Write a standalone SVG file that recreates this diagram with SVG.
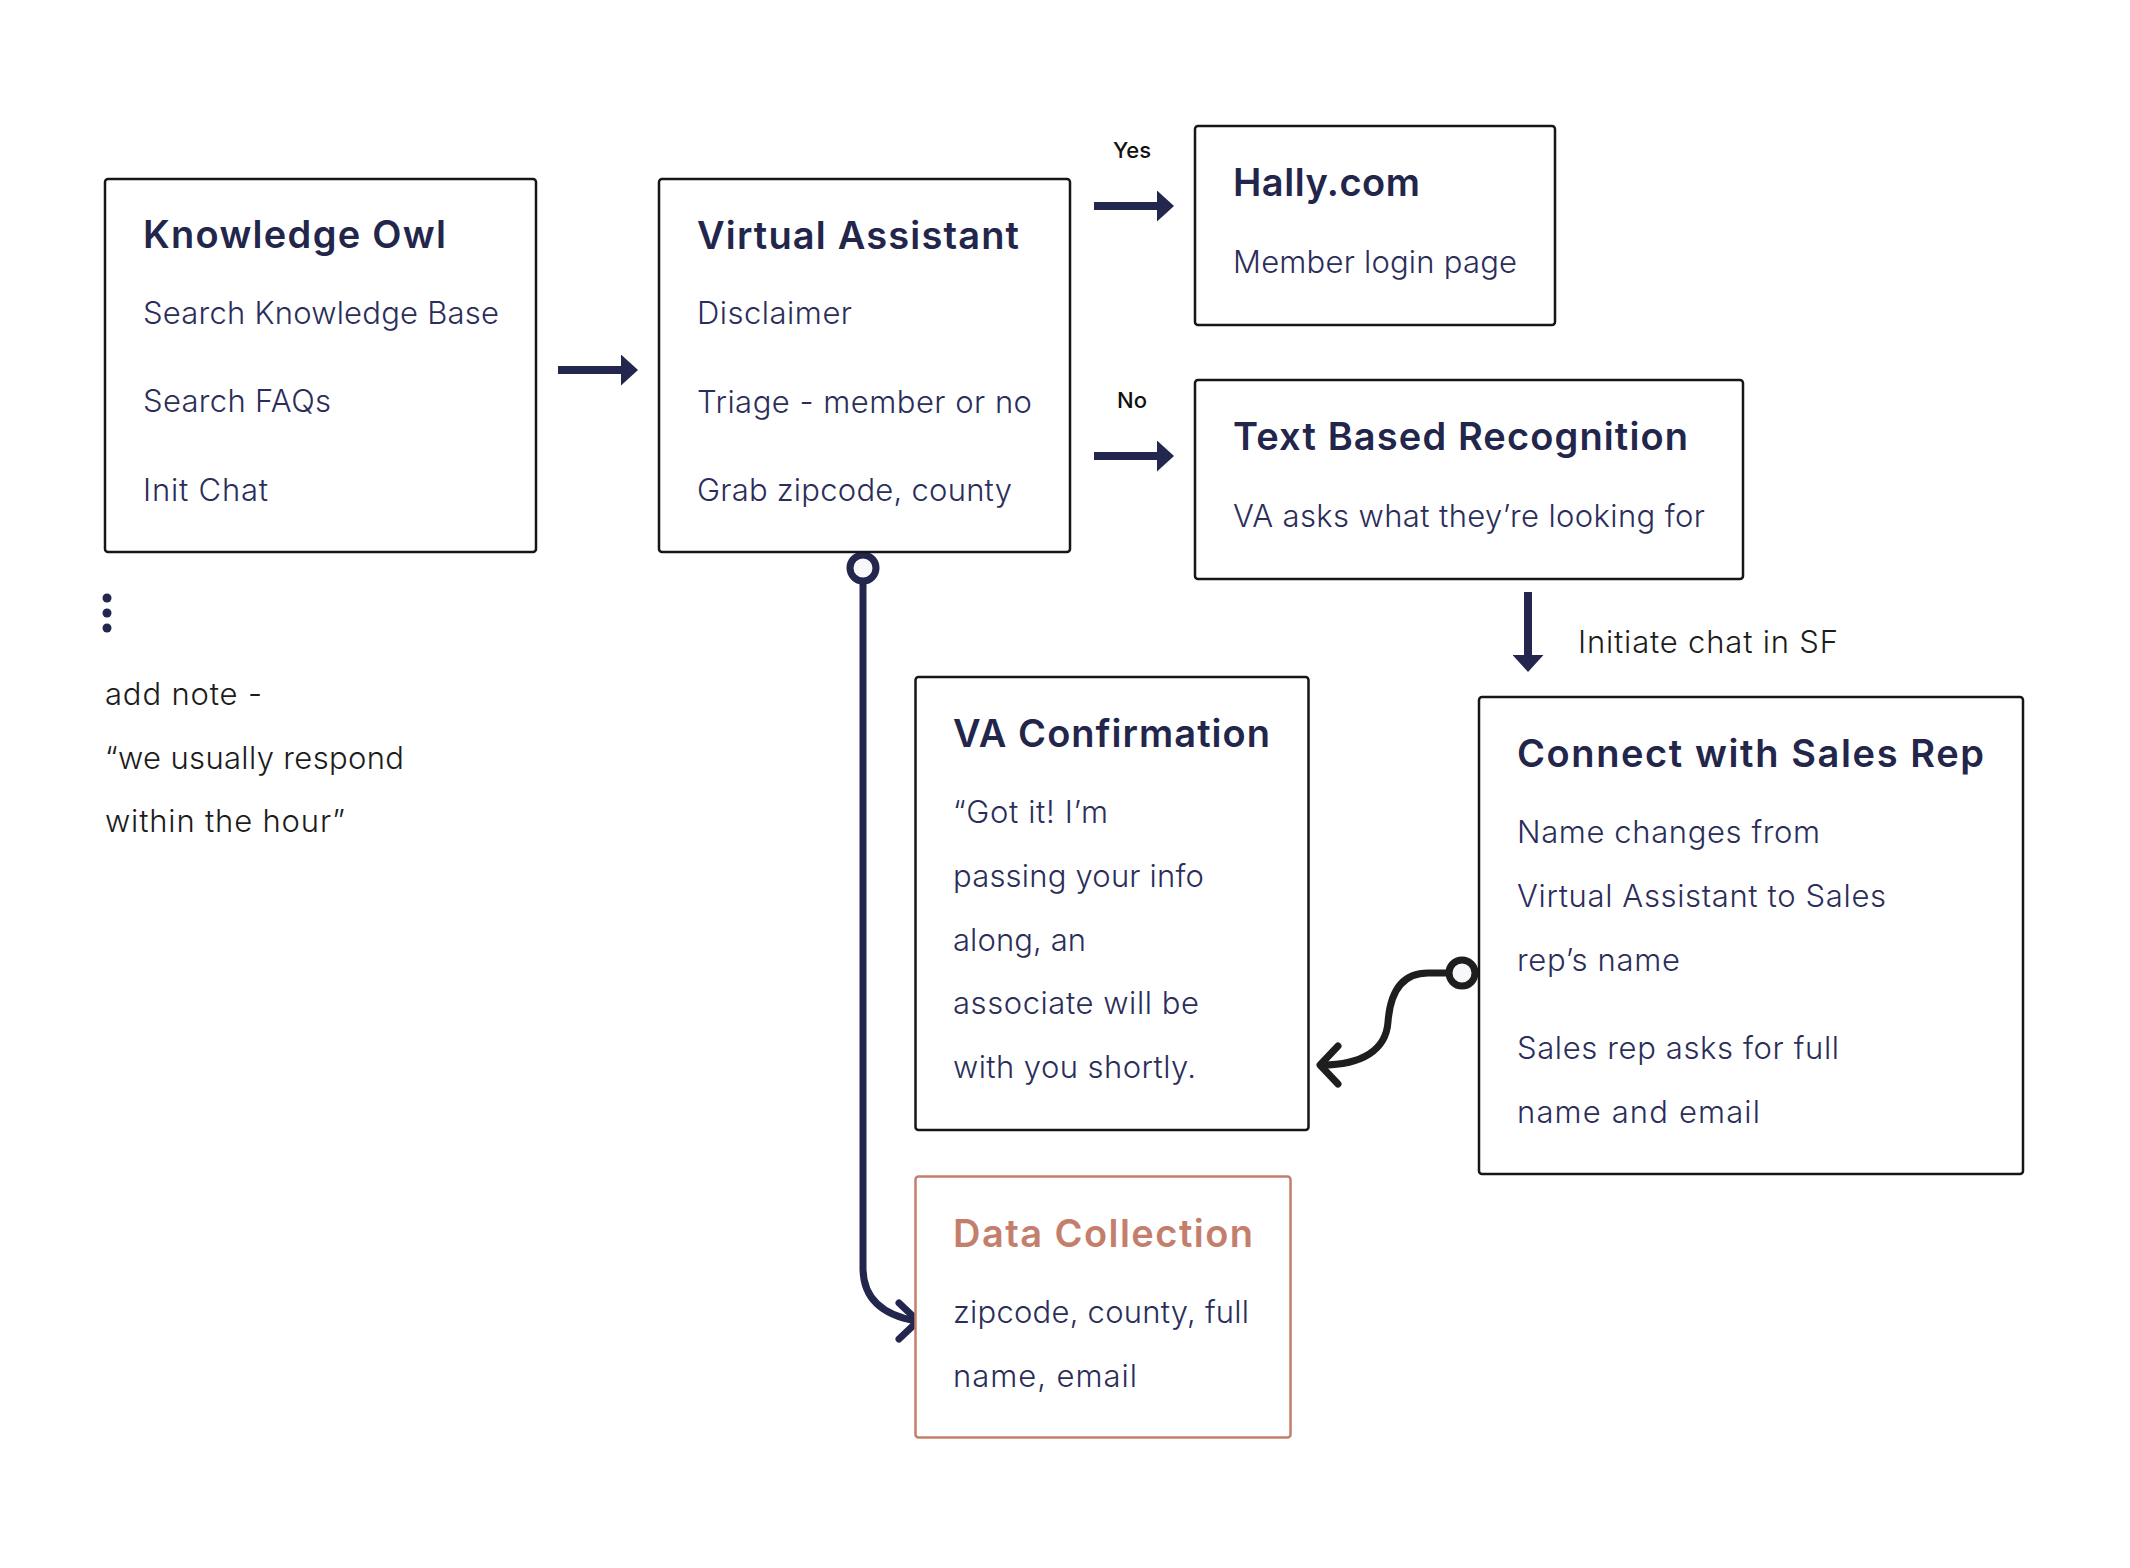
<svg xmlns="http://www.w3.org/2000/svg" width="2130" height="1568" viewBox="0 0 2130 1568">
<style>
.box{fill:#fff;stroke:#161616;stroke-width:2.5}
.box.dc{stroke:#c47f6c}
.t{font-family:"Inter","Noto Sans","Liberation Sans",sans-serif;font-weight:600;font-size:38px;fill:#23264b}
.t.dc{fill:#c47f6c}
.b{font-family:"Inter","Noto Sans","Liberation Sans",sans-serif;font-weight:300;font-size:31px;fill:#2b2e5a}
.n{font-family:"Inter","Noto Sans","Liberation Sans",sans-serif;font-weight:300;font-size:31px;fill:#1c1c1c}
.l{font-family:"Inter","Noto Sans","Liberation Sans",sans-serif;font-weight:500;font-size:22px;fill:#111}
.sh{stroke:#23264d;stroke-width:8;fill:none}
.cn{stroke:#23264d;stroke-width:7;fill:none;stroke-linecap:round;stroke-linejoin:round}
.cb{stroke:#1e1e1e;stroke-width:7;fill:none;stroke-linecap:round;stroke-linejoin:round}
.dot{fill:#23264d}
</style>
<defs>
<marker id="ah" markerUnits="userSpaceOnUse" markerWidth="17" markerHeight="31" refX="0" refY="15.5" orient="auto">
<polygon points="0,0 17,15.5 0,31" fill="#23264d"/>
</marker>
</defs>
<rect width="2130" height="1568" fill="#fff"/>

<g id="connectors">
<line class="sh" x1="558" y1="370" x2="621" y2="370" marker-end="url(#ah)"/>
<line class="sh" x1="1094" y1="206" x2="1157" y2="206" marker-end="url(#ah)"/>
<line class="sh" x1="1094" y1="456" x2="1157" y2="456" marker-end="url(#ah)"/>
<line class="sh" x1="1528" y1="592" x2="1528" y2="655" marker-end="url(#ah)"/>
<path class="cn" d="M863,582 V1268 C863,1298 882,1315 916,1321"/>
<path class="cn" d="M899,1303 L918,1321 L899,1339"/>
<circle cx="863" cy="568" r="13" fill="#f8f7f9" stroke="#23264d" stroke-width="7"/>
<path class="cb" d="M1448,973 H1428 C1400,973 1390,995 1388,1022 C1386,1050 1362,1065 1322,1065"/>
<path class="cb" d="M1338,1046 L1320,1065 L1338,1084"/>
<circle cx="1462" cy="973" r="13" fill="#f8f7f9" stroke="#1e1e1e" stroke-width="7"/>
</g>

<g id="knowledge-owl">
<rect class="box" x="105" y="179" width="431" height="373" rx="3"/>
<text class="t" x="143" y="248" textLength="303">Knowledge Owl</text>
<text class="b" x="143" y="324" textLength="356">Search Knowledge Base</text>
<text class="b" x="143" y="412" textLength="188">Search FAQs</text>
<text class="b" x="143" y="501" textLength="125">Init Chat</text>
</g>

<g id="virtual-assistant">
<rect class="box" x="659" y="179" width="411" height="373" rx="3"/>
<text class="t" x="697" y="249" textLength="322">Virtual Assistant</text>
<text class="b" x="697" y="324" textLength="155">Disclaimer</text>
<text class="b" x="697" y="413" textLength="335">Triage - member or no</text>
<text class="b" x="697" y="501" textLength="315">Grab zipcode, county</text>
</g>

<g id="label-yes"><text class="l" x="1132" y="158" text-anchor="middle">Yes</text></g>
<g id="label-no"><text class="l" x="1132" y="408" text-anchor="middle">No</text></g>

<g id="hally">
<rect class="box" x="1195" y="126" width="360" height="199" rx="3"/>
<text class="t" x="1233" y="196" textLength="187">Hally.com</text>
<text class="b" x="1233" y="273" textLength="284">Member login page</text>
</g>

<g id="text-based-recognition">
<rect class="box" x="1195" y="380" width="548" height="199" rx="3"/>
<text class="t" x="1233" y="450" textLength="455">Text Based Recognition</text>
<text class="b" x="1233" y="527" textLength="472">VA asks what they’re looking for</text>
</g>

<g id="label-initiate"><text class="n" x="1578" y="653" textLength="260">Initiate chat in SF</text></g>

<g id="note">
<circle class="dot" cx="107" cy="598" r="4.5"/>
<circle class="dot" cx="107" cy="613" r="4.5"/>
<circle class="dot" cx="107" cy="628" r="4.5"/>
<text class="n" x="105" y="705" textLength="157">add note -</text>
<text class="n" x="105" y="769" textLength="299">“we usually respond</text>
<text class="n" x="105" y="832" textLength="240">within the hour”</text>
</g>

<g id="va-confirmation">
<rect class="box" x="915.5" y="677" width="393" height="453" rx="3"/>
<text class="t" x="953" y="747" textLength="317">VA Confirmation</text>
<text class="b" x="953" y="823" textLength="155">“Got it! I’m</text>
<text class="b" x="953" y="887" textLength="251">passing your info</text>
<text class="b" x="953" y="951" textLength="133">along, an</text>
<text class="b" x="953" y="1014" textLength="246">associate will be</text>
<text class="b" x="953" y="1078" textLength="243">with you shortly.</text>
</g>

<g id="connect-sales-rep">
<rect class="box" x="1479" y="697" width="544" height="477" rx="3"/>
<text class="t" x="1517" y="767" textLength="467">Connect with Sales Rep</text>
<text class="b" x="1517" y="843" textLength="303">Name changes from</text>
<text class="b" x="1517" y="907" textLength="369">Virtual Assistant to Sales</text>
<text class="b" x="1517" y="971" textLength="163">rep’s name</text>
<text class="b" x="1517" y="1059" textLength="322">Sales rep asks for full</text>
<text class="b" x="1517" y="1123" textLength="243">name and email</text>
</g>

<g id="data-collection">
<rect class="box dc" x="915.5" y="1176.5" width="375" height="261" rx="3"/>
<text class="t dc" x="953" y="1247" textLength="300">Data Collection</text>
<text class="b" x="953" y="1323" textLength="296">zipcode, county, full</text>
<text class="b" x="953" y="1387" textLength="184">name, email</text>
</g>
</svg>
